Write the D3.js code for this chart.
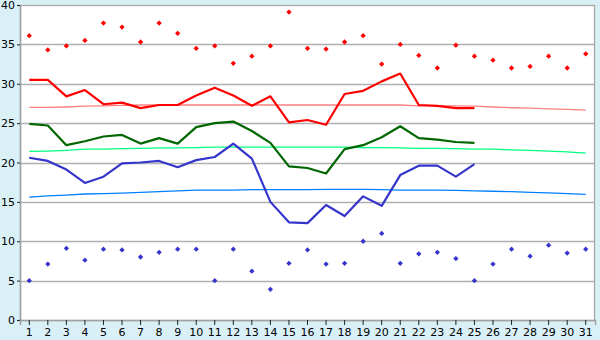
<!DOCTYPE html>
<html>
<head>
<meta charset="utf-8">
<script src="https://cdn.jsdelivr.net/npm/d3@7"></script>
<style>
  html, body { margin:0; padding:0; background:#d9f0f7; }
  svg { display:block; font-family:"DejaVu Sans", Verdana, sans-serif; }
</style>
</head>
<body>
<svg id="chart" width="600" height="340"></svg>
<script>
// day labels
const days = ['1','2','3','4','5','6','7','8','9','10','11','12','13','14','15','16',
  '17','18','19','20','21','22','23','24','25','26','27','28','29','30','31'];
const yTicks = [0,5,10,15,20,25,30,35,40];

// daily extremes (markers)
const maxTemp = [36.1,34.3,34.8,35.5,37.7,37.2,35.3,37.7,36.4,34.5,34.8,32.6,33.5,34.8,39.1,34.5,
  34.4,35.3,36.1,32.5,35.0,33.6,32.0,34.9,33.5,33.0,32.0,32.2,33.5,32.0,33.8];
const minTemp = [5.0,7.1,9.1,7.6,9.0,8.9,8.0,8.6,9.0,9.0,5.0,9.0,6.2,3.9,7.2,8.9,
  7.1,7.2,10.0,11.0,7.2,8.4,8.6,7.8,5.0,7.1,9.0,8.1,9.5,8.5,9.0];

// running averages (days 1-25)
const avgMax  = [30.5,30.5,28.4,29.2,27.4,27.6,26.9,27.3,27.3,28.5,29.5,28.5,27.2,28.4,25.1,25.4,
  24.8,28.7,29.1,30.3,31.3,27.3,27.2,26.9,26.9];
const avgMean = [24.9,24.7,22.2,22.7,23.3,23.5,22.4,23.1,22.4,24.5,25.0,25.2,24.0,22.5,19.5,19.3,
  18.6,21.7,22.2,23.2,24.6,23.1,22.9,22.6,22.5];
const avgMin  = [20.6,20.2,19.1,17.4,18.2,19.9,20.0,20.2,19.4,20.3,20.7,22.4,20.5,15.0,12.4,12.3,
  14.6,13.2,15.7,14.5,18.4,19.6,19.6,18.2,19.8];

// normals (all days)
const normMax  = [27.0,27.0,27.05,27.15,27.2,27.25,27.3,27.3,27.3,27.3,27.3,27.3,27.3,27.3,27.3,27.3,
  27.3,27.3,27.3,27.3,27.3,27.2,27.2,27.2,27.15,27.05,26.95,26.9,26.8,26.75,26.65];
const normMean = [21.4,21.45,21.55,21.7,21.7,21.75,21.8,21.85,21.85,21.9,21.95,21.95,21.95,21.95,21.95,21.95,
  21.95,21.95,21.9,21.9,21.85,21.8,21.8,21.75,21.7,21.7,21.6,21.55,21.45,21.35,21.2];
const normMin  = [15.6,15.75,15.85,16.0,16.05,16.1,16.2,16.3,16.4,16.5,16.5,16.5,16.55,16.55,16.55,16.55,
  16.6,16.6,16.6,16.55,16.5,16.5,16.5,16.45,16.4,16.35,16.3,16.2,16.15,16.05,15.95];

const W = 600, H = 340;
const margin = { left:20, right:5, top:5, bottom:20 };
const svg = d3.select('#chart');

const x = d3.scaleBand().domain(days).range([margin.left, W - margin.right]);
const y = d3.scaleLinear().domain([0,40]).range([H - margin.bottom, margin.top]);
const cx = i => x(days[i]) + x.bandwidth()/2;

// plot area
svg.append('rect')
  .attr('x', margin.left).attr('y', margin.top)
  .attr('width', W - margin.left - margin.right).attr('height', H - margin.top - margin.bottom)
  .attr('fill','#fff');

// grid
svg.append('g').selectAll('line').data(yTicks.filter(t=>t>0 && t<40)).join('line')
  .attr('x1', margin.left).attr('x2', W - margin.right)
  .attr('y1', d=>Math.round(y(d))+0.5).attr('y2', d=>Math.round(y(d))+0.5)
  .attr('stroke','#b0b0b0').attr('stroke-width',1.3);

// frame
svg.append('rect')
  .attr('x', margin.left+0.5).attr('y', margin.top+0.5)
  .attr('width', W - margin.left - margin.right - 1).attr('height', H - margin.top - margin.bottom)
  .attr('fill','none').attr('stroke','#a8a8a8').attr('stroke-width',1.3);

// axes
const yAxis = svg.append('g').attr('transform',`translate(${margin.left},0)`)
  .call(d3.axisLeft(y).tickValues(yTicks).tickSize(3).tickPadding(2));
const xAxis = svg.append('g').attr('transform',`translate(0,${H - margin.bottom})`)
  .call(d3.axisBottom(x).tickSize(5).tickPadding(3));
[yAxis, xAxis].forEach(g=>{
  g.select('.domain').attr('stroke','#a0a0a0').attr('stroke-width',1.5);
  g.selectAll('.tick line').attr('stroke','#222');
  g.selectAll('.tick text').attr('fill','#000').style('font-size','11px')
    .style('font-family','"DejaVu Sans", Verdana, sans-serif');
});

const line = d3.line().x((d,i)=>cx(i)).y(d=>y(d));

// normals
[[normMax,'#ff8080'],[normMean,'#00ff80'],[normMin,'#0080ff']].forEach(([data,col])=>{
  svg.append('path').datum(data).attr('d', line)
    .attr('fill','none').attr('stroke',col).attr('stroke-width',1.3);
});

// averages
[[avgMax,'#ff0000'],[avgMean,'#006600'],[avgMin,'#3535cc']].forEach(([data,col])=>{
  svg.append('path').datum(data).attr('d', line)
    .attr('fill','none').attr('stroke',col).attr('stroke-width',2.2)
    .attr('stroke-linejoin','round');
});

// markers
const diamond = d3.symbol(d3.symbolSquare, 14);
[[maxTemp,'#ff0000'],[minTemp,'#3535cc']].forEach(([data,col])=>{
  svg.append('g').selectAll('path').data(data).join('path')
    .attr('d', diamond)
    .attr('transform',(d,i)=>`translate(${cx(i)},${y(d)}) rotate(45)`)
    .attr('fill',col);
});
</script>
</body>
</html>
